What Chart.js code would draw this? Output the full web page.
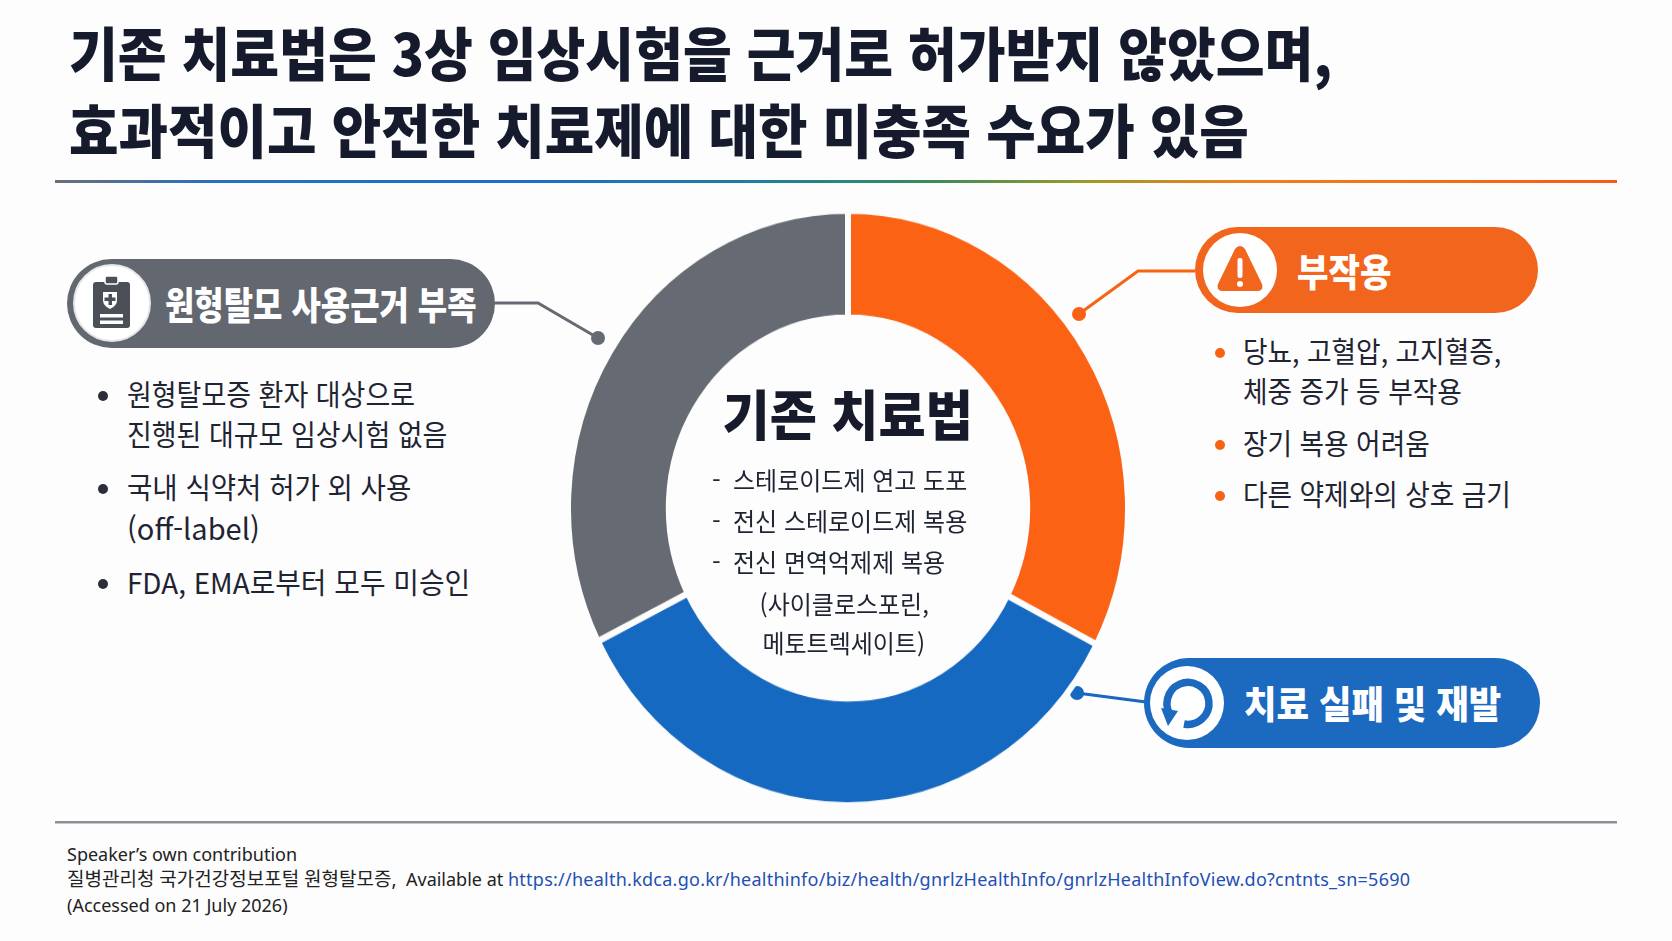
<!DOCTYPE html>
<html lang="ko">
<head>
<meta charset="utf-8">
<script src="https://cdn.jsdelivr.net/npm/chart.js@4.4.1/dist/chart.umd.min.js"></script>
<style>
  html,body{margin:0;padding:0;background:#fdfdfd;}
  body{width:1672px;height:941px;position:relative;overflow:hidden;font-family:"Noto Sans CJK KR","Noto Sans",sans-serif;color:#1f2433;}
  .abs{position:absolute;white-space:nowrap;line-height:1;}
  .sx{display:inline-block;transform-origin:left center;}
  .title{font-size:58px;font-weight:900;color:#151a2c;}
  .pill{position:absolute;border-radius:50px;}
  .pilltxt{font-size:38px;font-weight:900;color:#fff;}
  .body{font-size:29px;font-weight:400;color:#1f2433;}
  .dot{position:absolute;width:10px;height:10px;border-radius:50%;}
  .ctitle{font-size:54px;font-weight:900;color:#161a2b;}
  .sub{font-size:25px;font-weight:400;color:#1f2433;}
  .sub .sx{transform:scaleX(0.96);}
  .foot{font-family:"Noto Sans","Noto Sans CJK KR",sans-serif;font-size:18px;color:#222;}
  #chartBox{position:absolute;left:565px;top:225px;width:566px;height:566px;transform:scaleY(1.062);transform-origin:center center;}
</style>
</head>
<body>
<script>
// ---- data ----
const categories = ["부작용", "치료 실패 및 재발", "원형탈모 사용근거 부족"];
const shares = [32.6, 35, 32.4];
const sliceColors = ["#fb6214", "#1669c0", "#666a72"];
const titleLines = ["기존 치료법은 3상 임상시험을 근거로 허가받지 않았으며,", "효과적이고 안전한 치료제에 대한 미충족 수요가 있음"];
const centerTitle = "기존 치료법";
const centerLines = ["스테로이드제 연고 도포", "전신 스테로이드제 복용", "전신 면역억제제 복용"];
const centerLinesCentered = ["(사이클로스포린,", "메토트렉세이트)"];
const leftBullets = [["원형탈모증 환자 대상으로", "진행된 대규모 임상시험 없음"], ["국내 식약처 허가 외 사용", "(off-label)"], ["FDA, EMA로부터 모두 미승인"]];
const rightBullets = [["당뇨, 고혈압, 고지혈증,", "체중 증가 등 부작용"], ["장기 복용 어려움"], ["다른 약제와의 상호 금기"]];
const footLines = ["Speaker’s own contribution", "질병관리청 국가건강정보포털 원형탈모증,", "(Accessed on 21 July 2026)"];
const footAvail = "Available at ";
const footUrl = "https://health.kdca.go.kr/healthinfo/biz/health/gnrlzHealthInfo/gnrlzHealthInfoView.do?cntnts_sn=5690";
</script>

<svg width="1672" height="941" style="position:absolute;left:0;top:0;" xmlns="http://www.w3.org/2000/svg">
  <defs>
    <linearGradient id="hg" x1="0" x2="1" y1="0" y2="0">
      <stop offset="0" stop-color="#6b6f78"/>
      <stop offset="0.1" stop-color="#2a6fc0"/>
      <stop offset="0.3" stop-color="#1a6fc8"/>
      <stop offset="0.45" stop-color="#1d7fa0"/>
      <stop offset="0.56" stop-color="#3a8a5a"/>
      <stop offset="0.66" stop-color="#9a9a2a"/>
      <stop offset="0.76" stop-color="#f0801c"/>
      <stop offset="1" stop-color="#f85c12"/>
    </linearGradient>
  </defs>
  <rect x="55" y="180" width="1562" height="3" fill="url(#hg)"/>
  <rect x="55" y="821" width="1562" height="2.5" fill="#8a8f98"/>
  <!-- leaders -->
  <polyline points="495,303 538,303 598,338" fill="none" stroke="#666a72" stroke-width="3"/>
  <circle cx="598" cy="338" r="7" fill="#666a72"/>
  <polyline points="1195,271 1138,271 1079,314" fill="none" stroke="#f96214" stroke-width="3"/>
  <circle cx="1079" cy="314" r="7" fill="#f96214"/>
  <line x1="1077" y1="693" x2="1146" y2="702" stroke="#1669c0" stroke-width="3"/>
  <circle cx="1077" cy="693" r="7" fill="#1669c0"/>
</svg>

<div class="pill" style="left:67px;top:259px;width:428px;height:89px;background:#63676f;"></div>
<div class="pill" style="left:1195px;top:227px;width:343px;height:86px;background:#f2651c;"></div>
<div class="pill" style="left:1144px;top:658px;width:396px;height:90px;background:#1b6ac0;"></div>

<svg width="1672" height="941" style="position:absolute;left:0;top:0;" xmlns="http://www.w3.org/2000/svg">
  <!-- clipboard icon -->
  <circle cx="112" cy="303" r="38" fill="#fff" stroke="#e6e7ea" stroke-width="2"/>
  <rect x="93" y="282" width="37" height="46" rx="3" fill="#4b4f57"/>
  <rect x="105" y="276" width="13" height="8" rx="2" fill="#4b4f57" stroke="#fff" stroke-width="1.5"/>
  <path d="M103,292 L117,292 L117,300 Q117,306 110,309 Q103,306 103,300 Z" fill="#fff"/>
  <rect x="108.5" y="294" width="3.5" height="11" fill="#4b4f57"/>
  <rect x="104.5" y="297.5" width="11" height="3.5" fill="#4b4f57"/>
  <rect x="100" y="314" width="23" height="3.5" fill="#fff"/>
  <rect x="100" y="320.5" width="23" height="3.5" fill="#fff"/>
  <!-- warning icon -->
  <circle cx="1240" cy="270" r="37" fill="#fff"/>
  <path d="M1240,246 Q1243,246 1245,249 L1262,284 Q1264,291 1257,291 L1223,291 Q1216,291 1218,284 L1235,249 Q1237,246 1240,246 Z" fill="#f2651c"/>
  <rect x="1237.5" y="258" width="5" height="20" rx="2" fill="#fff"/>
  <circle cx="1240" cy="284" r="3" fill="#fff"/>
  <!-- refresh icon -->
  <circle cx="1187" cy="703" r="37" fill="#fff"/>
  <path d="M1172,717 A21,21 0 1 1 1184,724" fill="none" stroke="#1b6ac0" stroke-width="7.5"/>
  <path d="M1161,708 L1178,711 L1168,726 Z" fill="#1b6ac0"/>
</svg>

<div id="chartBox"><canvas id="c"></canvas></div>

<div id="texts"></div>

<script>
const T = document.getElementById('texts');
function add(html, cls, left, top, extra){
  const d = document.createElement('div');
  d.className = 'abs ' + cls;
  d.style.left = left + 'px';
  d.style.top = top + 'px';
  if (extra) Object.assign(d.style, extra);
  d.innerHTML = html;
  T.appendChild(d);
  return d;
}
function sx(t, s){ return '<span class="sx" style="transform:scaleX(' + s + ')">' + t + '</span>'; }

// Title
add(sx(titleLines[0], 0.915), 'title', 69, 56 - 0.58*58);
add(sx(titleLines[1], 0.928), 'title', 69, 133 - 0.58*58);

// Pill texts
add(sx(categories[2], 0.84), 'pilltxt', 165, 306 - 0.58*38);
add(sx(categories[0], 0.9), 'pilltxt', 1297, 273 - 0.58*38);
add(sx(categories[1], 0.93), 'pilltxt', 1244, 705 - 0.58*38);

// Left bullets
const leftY = [[396, 436], [489, 530], [584]];
const leftScale = [[0.93, 0.93], [0.95, 1.0], [0.96]];
leftBullets.forEach((item, i) => {
  const dot = document.createElement('div');
  dot.className = 'dot'; dot.style.background = '#2a2e38';
  dot.style.left = (103 - 5) + 'px'; dot.style.top = (leftY[i][0] - 5) + 'px';
  T.appendChild(dot);
  item.forEach((line, j) => add(sx(line, leftScale[i][j]), 'body', 127, leftY[i][j] - 0.58*29));
});
// Right bullets
const rightY = [[353, 393], [445], [496]];
rightBullets.forEach((item, i) => {
  const dot = document.createElement('div');
  dot.className = 'dot'; dot.style.background = '#f96214';
  dot.style.left = (1220 - 5) + 'px'; dot.style.top = (rightY[i][0] - 5) + 'px';
  T.appendChild(dot);
  item.forEach((line, j) => add(sx(line, 0.92), 'body', 1243, rightY[i][j] - 0.58*29));
});

// Center
add('<span class="sx" style="transform:scaleX(0.95);transform-origin:center center;">' + centerTitle + '</span>', 'ctitle', 0, 417 - 0.58*54, {width:'1696px', textAlign:'center'});
const subY = [481, 522, 563];
centerLines.forEach((l, i) => {
  add('-', 'sub', 712, subY[i] - 0.58*25);
  add(sx(l, 0.96), 'sub', 733, subY[i] - 0.58*25);
});
const subY2 = [605, 644];
centerLinesCentered.forEach((l, i) => add('<span class="sx" style="transform-origin:center center;">' + l + '</span>', 'sub', 0, subY2[i] - 0.58*25, {width:'1688px', textAlign:'center'}));

// Footer
add(footLines[0], 'foot', 67, 845);
add('<span style="font-size:19px">' + footLines[1] + '</span>&nbsp; ' + footAvail + '<span style="color:#1f4fb4;letter-spacing:0.25px">' + footUrl + '</span>', 'foot', 67, 870);
add(footLines[2], 'foot', 67, 896);

// Chart
new Chart(document.getElementById('c'), {
  type: 'doughnut',
  data: {
    labels: categories,
    datasets: [{
      data: shares,
      backgroundColor: sliceColors,
      borderColor: '#fdfdfd',
      borderWidth: 6,
      hoverOffset: 0
    }]
  },
  options: {
    responsive: true,
    maintainAspectRatio: false,
    animation: false,
    cutout: '64%',
    rotation: 0,
    layout: { padding: 0 },
    plugins: { legend: { display: false }, tooltip: { enabled: false } }
  }
});
</script>
</body>
</html>
